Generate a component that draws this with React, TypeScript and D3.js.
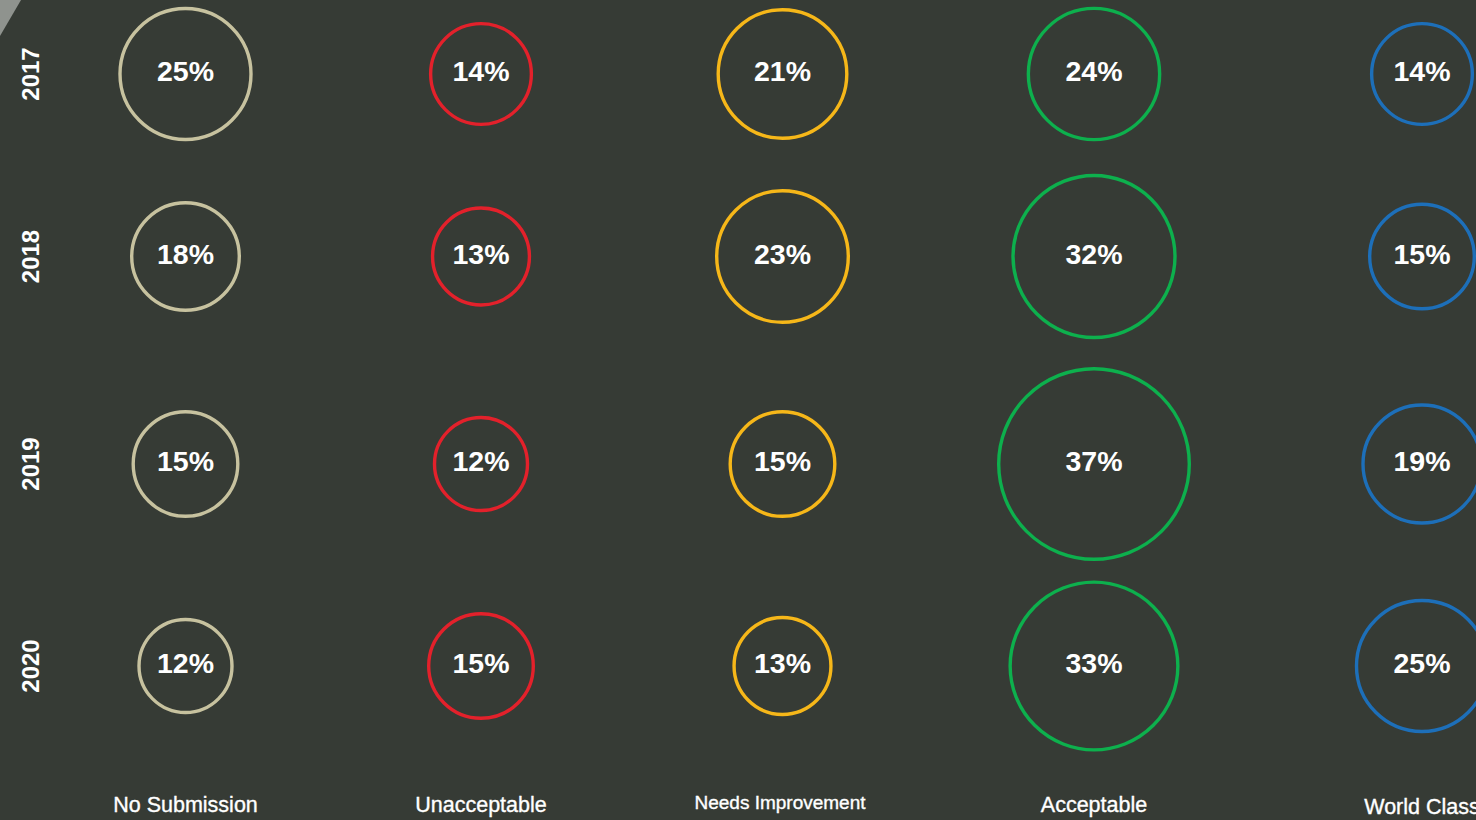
import React, { useEffect, useRef } from "react";
import * as d3 from "d3";

const years = ["2017", "2018", "2019", "2020"];
const categories = ["No Submission", "Unacceptable", "Needs Improvement", "Acceptable", "World Class"];
const noSubmission = [25, 18, 15, 12];
const unacceptable = [14, 13, 12, 15];
const needsImprovement = [21, 23, 15, 13];
const acceptable = [24, 32, 37, 33];
const worldClass = [14, 15, 19, 25];
const seriesValues = [noSubmission, unacceptable, needsImprovement, acceptable, worldClass];
const colors = ["#c7c29f", "#e3212b", "#f6b719", "#0db04d", "#1d6fb9"];

const W = 1476;
const H = 820;

export default function App() {
  const ref = useRef<SVGSVGElement | null>(null);

  useEffect(() => {
    document.body.style.margin = "0";
    const svg = d3.select(ref.current);
    svg.selectAll("*").remove();

    svg.append("rect").attr("width", W).attr("height", H).attr("fill", "#363b35");
    svg.append("path").attr("d", "M0,0 L21,0 L0,36 Z").attr("fill", "#8f938e");

    const x = d3.scaleOrdinal<string, number>().domain(categories).range([185.5, 481, 782.5, 1094, 1422]);
    const y = d3.scaleOrdinal<string, number>().domain(years).range([74, 256.5, 464, 666]);
    const r = d3
      .scaleLinear()
      .domain([12, 15, 18, 19, 21, 23, 25, 32, 37])
      .range([46.5, 52.3, 53.8, 59, 64.3, 65.8, 65.5, 81, 95.3]);

    const cells: { cat: string; year: string; v: number; color: string }[] = [];
    categories.forEach((c, ci) => {
      years.forEach((yr, yi) => {
        cells.push({ cat: c, year: yr, v: seriesValues[ci][yi], color: colors[ci] });
      });
    });

    const g = svg.append("g");
    g.selectAll("circle")
      .data(cells)
      .join("circle")
      .attr("cx", (d) => x(d.cat))
      .attr("cy", (d) => y(d.year))
      .attr("r", (d) => r(d.v))
      .attr("fill", "none")
      .attr("stroke", (d) => d.color)
      .attr("stroke-width", 3.4);

    g.selectAll("text.val")
      .data(cells)
      .join("text")
      .attr("class", "val")
      .attr("x", (d) => x(d.cat))
      .attr("y", (d) => y(d.year) + 7)
      .attr("text-anchor", "middle")
      .attr("fill", "#ffffff")
      .attr("font-family", "'Liberation Sans', Arial, sans-serif")
      .attr("font-weight", "bold")
      .attr("font-size", 28.5)
      .text((d) => `${d.v}%`);

    svg.selectAll("text.year")
      .data(years)
      .join("text")
      .attr("class", "year")
      .attr("transform", (d) => `translate(38.5,${y(d)}) rotate(-90)`)
      .attr("text-anchor", "middle")
      .attr("fill", "#ffffff")
      .attr("font-family", "'Liberation Sans', Arial, sans-serif")
      .attr("font-weight", "bold")
      .attr("font-size", 24)
      .text((d) => d);

    const labelY: Record<string, number> = {
      "No Submission": 812,
      "Unacceptable": 812,
      "Needs Improvement": 809,
      "Acceptable": 812,
      "World Class": 813.5,
    };
    const labelSize: Record<string, number> = {
      "No Submission": 21.5,
      "Unacceptable": 21.5,
      "Needs Improvement": 19,
      "Acceptable": 21.5,
      "World Class": 21.5,
    };
    svg.selectAll("text.cat")
      .data(categories)
      .join("text")
      .attr("class", "cat")
      .attr("x", (d) => (d === "Needs Improvement" ? 780 : x(d)))
      .attr("y", (d) => labelY[d])
      .attr("text-anchor", "middle")
      .attr("fill", "#ffffff")
      .attr("stroke", "#ffffff")
      .attr("stroke-width", 0.35)
      .attr("font-family", "'Liberation Sans', Arial, sans-serif")
      .attr("font-size", (d) => labelSize[d])
      .text((d) => d);
  }, []);

  return <svg ref={ref} width={W} height={H} style={{ display: "block" }} />;
}
